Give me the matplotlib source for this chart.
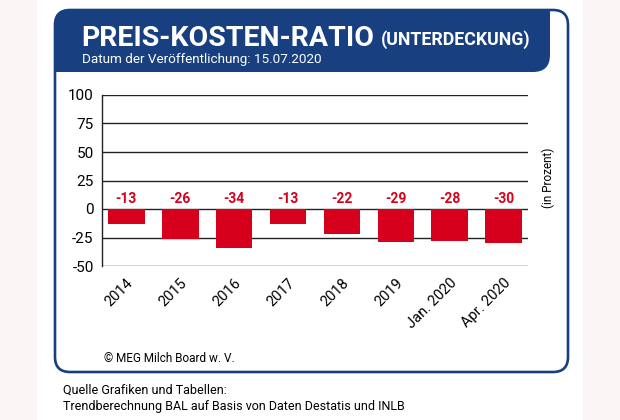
import matplotlib
matplotlib.use("Agg")
import matplotlib.pyplot as plt
from matplotlib import font_manager
from matplotlib.patches import FancyBboxPatch, Rectangle

# Daten
kategorien = ["2014", "2015", "2016", "2017", "2018", "2019", "Jan. 2020", "Apr. 2020"]
werte = [-13, -26, -34, -13, -22, -29, -28, -30]
y_ticks = [100, 75, 50, 25, 0, -25, -50]

BLAU = "#183f80"
ROT = "#d6001c"
plt.rcParams['font.family'] = ['Roboto', 'DejaVu Sans']

# schmale Schrift für den Titel, falls vorhanden
try:
    font_manager.findfont("Liberation Sans Narrow", fallback_to_default=False)
    TITEL_FONT = ["Liberation Sans Narrow", "Roboto"]
    TITEL_SIZE = 24
except ValueError:
    TITEL_FONT = ["Roboto", "DejaVu Sans"]
    TITEL_SIZE = 20.5

W, H = 620, 420
fig = plt.figure(figsize=(W / 100, H / 100), dpi=100)

# Hintergrund in Pixelkoordinaten
bg = fig.add_axes([0, 0, 1, 1], zorder=0)
bg.set_xlim(0, W)
bg.set_ylim(H, 0)
bg.axis("off")

bg.add_patch(Rectangle((0, 0), 37, H, color="#fcf5f5", lw=0))
bg.add_patch(Rectangle((583, 0), 37, H, color="#fcf5f5", lw=0))

bg.add_patch(FancyBboxPatch((55, 10), 513, 362, boxstyle="round,pad=0,rounding_size=15",
                            fc="white", ec="none"))
# Kopfzeile
bg.add_patch(FancyBboxPatch((55, 10), 495, 62, boxstyle="round,pad=0,rounding_size=17",
                            fc=BLAU, ec="none"))
bg.add_patch(Rectangle((55, 45), 30, 27, color=BLAU, lw=0))
bg.add_patch(Rectangle((520, 10), 30, 30, color=BLAU, lw=0))
bg.add_patch(FancyBboxPatch((55, 10), 513, 362, boxstyle="round,pad=0,rounding_size=15",
                            fc="none", ec=BLAU, lw=1.9))

titel = bg.text(81, 46, "PREIS-KOSTEN-RATIO", color="white", fontsize=TITEL_SIZE,
                fontweight="bold", family=TITEL_FONT, ha="left", va="baseline")
fig.canvas.draw()
ende = bg.transData.inverted().transform(titel.get_window_extent().get_points())[1, 0]
bg.text(ende + 7, 45, "(UNTERDECKUNG)", color="white", fontsize=12.8, fontweight="bold",
        family=TITEL_FONT, ha="left", va="baseline")
bg.text(82, 63, "Datum der Veröffentlichung: 15.07.2020", color="white", fontsize=9.7,
        ha="left", va="baseline")

bg.text(104, 362, "© MEG Milch Board w. V.", color="black", fontsize=8.5,
        ha="left", va="baseline")
bg.text(63, 394, "Quelle Grafiken und Tabellen:", color="black", fontsize=9,
        ha="left", va="baseline")
bg.text(63, 410, "Trendberechnung BAL auf Basis von Daten Destatis und INLB", color="black",
        fontsize=9, ha="left", va="baseline")
bg.text(548, 178, "(in Prozent)", color="black", fontsize=8.5, rotation=90,
        ha="center", va="center")

# Diagramm
ax = fig.add_axes([102 / W, 1 - 266 / H, 426 / W, 171 / H], zorder=1)
ax.patch.set_alpha(0)
x = range(len(kategorien))
ax.bar(x, werte, width=0.68, color=ROT, zorder=2)
for xi, v in zip(x, werte):
    ax.text(xi, 9, str(v), color=ROT, fontsize=10, fontweight="bold",
            ha="center", va="center")

ax.set_ylim(-50, 100)
ax.set_xlim(-0.45, len(kategorien) - 0.55)
ax.set_yticks(y_ticks)
ax.set_yticklabels([str(t) for t in y_ticks], fontsize=11)
for t in y_ticks:
    ax.axhline(t, color="#222222", lw=1, zorder=1)
ax.set_xticks(list(x))
ax.set_xticklabels(kategorien, rotation=45, ha="right", rotation_mode="anchor", fontsize=10.5)
ax.tick_params(axis="both", length=0)
ax.tick_params(axis="y", pad=6)
ax.tick_params(axis="x", pad=7)
for s in ["top", "right", "bottom"]:
    ax.spines[s].set_visible(False)
ax.spines["left"].set_color("#222222")
ax.spines["left"].set_linewidth(1)

fig.savefig("out.png", dpi=100)
